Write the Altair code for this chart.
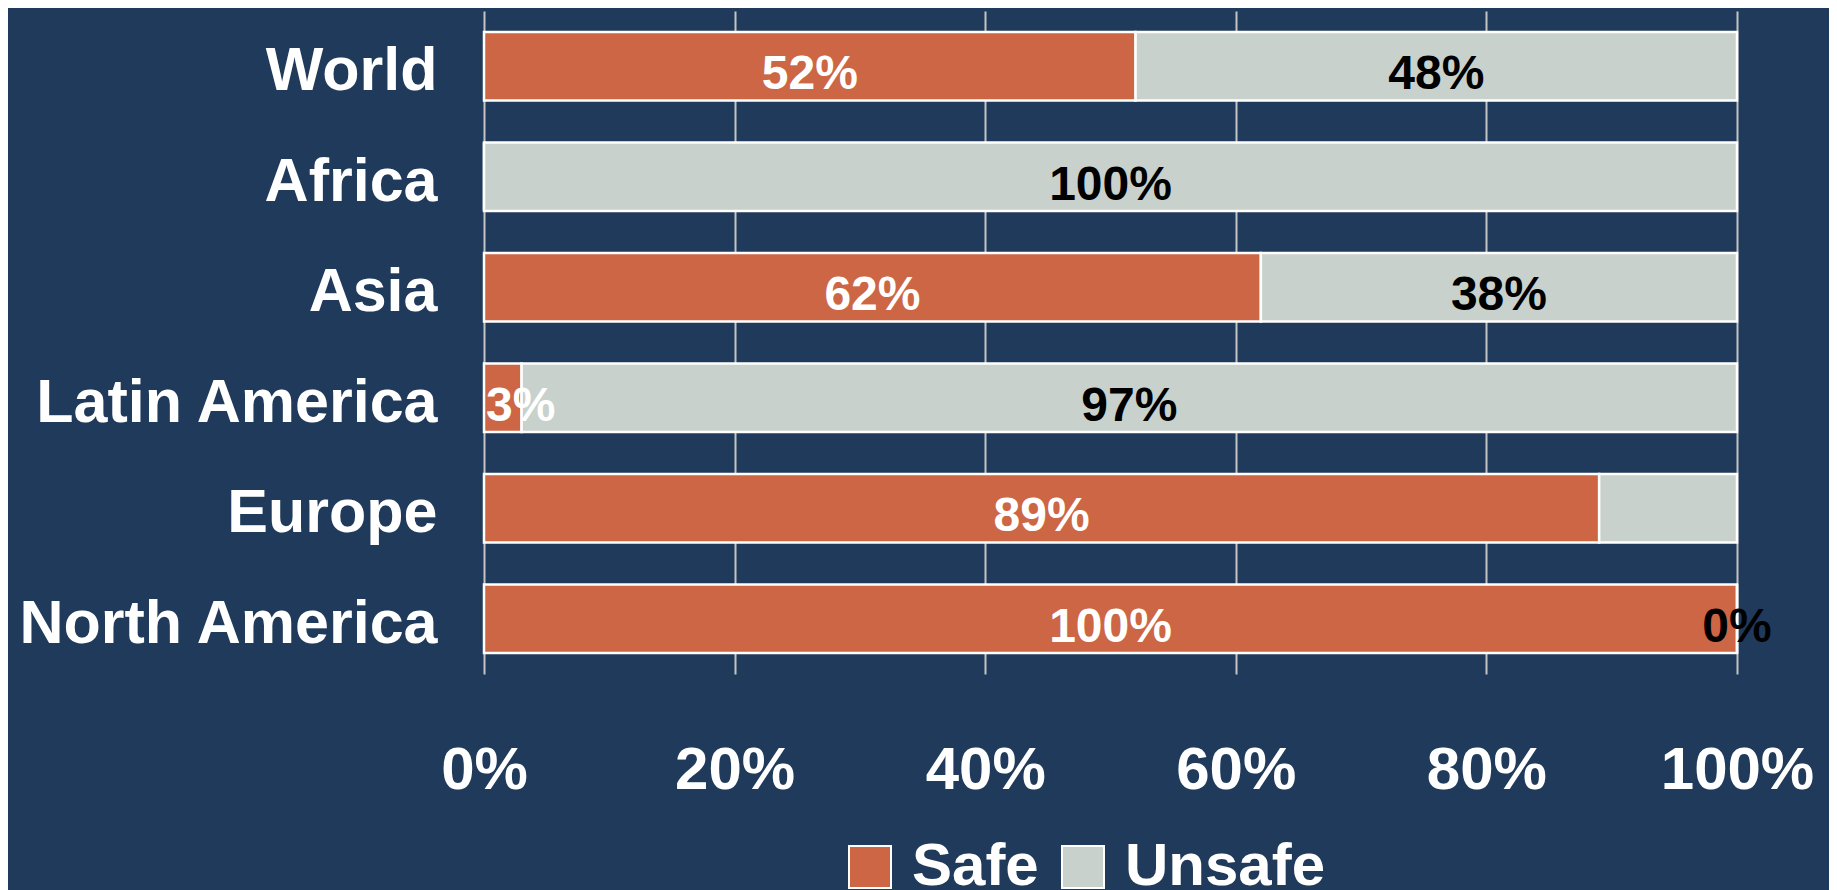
import altair as alt
import pandas as pd

regions = ["World", "Africa", "Asia", "Latin America", "Europe", "North America"]
safe = [52, 0, 62, 3, 89, 100]
unsafe = [48, 100, 38, 97, 11, 0]
safe_labels = ["52%", "", "62%", "3%", "89%", "100%"]
unsafe_labels = ["48%", "100%", "38%", "97%", "", "0%"]
categories = ["Safe", "Unsafe"]
colors = ["#CC6644", "#C9D1CC"]
tick_values = [0, 20, 40, 60, 80, 100]

FONT = "Liberation Sans"
BG = "#1F3A5A"

rows = []
for i, r in enumerate(regions):
    rows.append(dict(region=r, cat="Safe", start=0, end=safe[i],
                     label=safe_labels[i], tcolor="white"))
    rows.append(dict(region=r, cat="Unsafe", start=safe[i], end=safe[i] + unsafe[i],
                     label=unsafe_labels[i], tcolor="black"))
df = pd.DataFrame(rows)
df["mid"] = (df["start"] + df["end"]) / 2
# labels that would spill past the left edge are pinned to the bar start
df["pin"] = (df["mid"] < 2.75) & (df["start"] == 0)

y_enc = alt.Y("region:N", sort=regions,
              scale=alt.Scale(paddingInner=0.38, paddingOuter=0.19),
              axis=alt.Axis(title=None, labelFont=FONT, labelFontSize=61,
                            labelFontWeight="bold", labelColor="white",
                            labelPadding=47, ticks=False, domain=False,
                            labelOffset=6, grid=False, labelLimit=1000))

bars = alt.Chart(df).mark_bar(stroke="white", strokeWidth=2.5).encode(
    x=alt.X("start:Q", scale=alt.Scale(domain=[0, 100], nice=False),
            axis=alt.Axis(title=None, values=tick_values,
                          labelExpr="datum.value + '%'",
                          labelFont=FONT, labelFontSize=60, labelFontWeight="bold",
                          labelColor="white", labelPadding=67, ticks=False,
                          labelFlush=False, labelOverlap=False, labelBound=False,
                          domain=False, grid=True, gridColor="#C4C4C4", gridWidth=2)),
    x2="end:Q",
    y=y_enc,
    color=alt.Color("cat:N", scale=alt.Scale(domain=categories, range=colors),
                    legend=alt.Legend(title=None, orient="none", direction="horizontal",
                                      legendX=356, legendY=826,
                                      symbolType="square", symbolSize=1764,
                                      symbolStrokeColor="white", symbolStrokeWidth=2,
                                      symbolOpacity=1,
                                      labelFont=FONT, labelFontSize=60,
                                      labelFontWeight="bold", labelColor="white",
                                      labelOffset=12, columnPadding=14,
                                      labelLimit=500)),
)

text_base = alt.Chart(df).transform_filter("datum.label != ''")

text_center = text_base.transform_filter("!datum.pin").mark_text(
    font=FONT, fontSize=48, fontWeight="bold", baseline="middle", align="center", dy=9
).encode(
    x=alt.X("mid:Q"),
    y=alt.Y("region:N", sort=regions),
    text="label:N",
    color=alt.Color("tcolor:N", scale=None),
)

text_left = text_base.transform_filter("datum.pin").mark_text(
    font=FONT, fontSize=48, fontWeight="bold", baseline="middle", align="left", dx=2, dy=9
).encode(
    x=alt.X("start:Q"),
    y=alt.Y("region:N", sort=regions),
    text="label:N",
    color=alt.Color("tcolor:N", scale=None),
)

chart = alt.layer(bars, text_center, text_left).properties(
    width=1253, height=663,
    padding={"left": 476, "top": 3, "right": 92, "bottom": 230},
    autosize=alt.AutoSizeParams(type="none"),
    background=BG,
).configure_view(stroke=None)

chart.save("out.html", embed_options={"renderer": "svg", "actions": False})
